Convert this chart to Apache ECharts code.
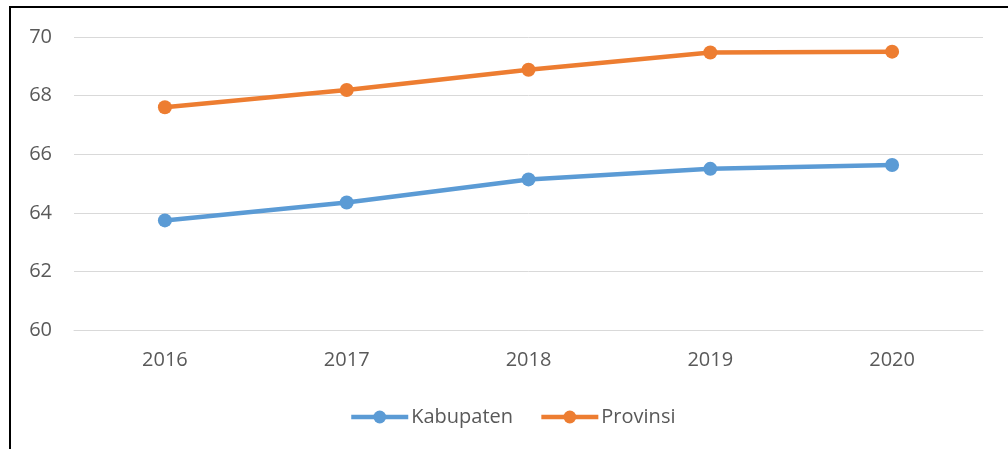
<!DOCTYPE html>
<html>
<head>
<meta charset="utf-8">
<script src="https://cdn.jsdelivr.net/npm/echarts@6/dist/echarts.min.js"></script>
<style>
  html, body { margin: 0; padding: 0; background: #fff; }
  #chart { width: 1008px; height: 449px; }
</style>
</head>
<body>
<div id="chart"></div>
<script>
var years = ['2016', '2017', '2018', '2019', '2020'];
var kabupaten = [63.74, 64.35, 65.14, 65.5, 65.63];
var provinsi = [67.6, 68.19, 68.88, 69.47, 69.5];

var myChart = echarts.init(document.getElementById('chart'));

var textColor = '#595959';
var fontFamily = '"Open Sans", "Liberation Sans", sans-serif';

option = {
	backgroundColor: '#fff',
	animation: false,
	textStyle: {
		fontFamily: fontFamily
	},
	graphic: [{
		type: 'rect',
		shape: { x: 10, y: 7, width: 1010, height: 460 },
		style: { fill: 'none', stroke: '#000', lineWidth: 2 }
	}],
	grid: {
		left: 74,
		right: 25,
		top: 37,
		bottom: 119
	},
	legend: {
		left: 344,
		top: 402,
		itemWidth: 57,
		itemHeight: 16,
		itemGap: 26,
		lineStyle: { width: 4.5 },
		textStyle: {
			color: textColor,
			fontSize: 20,
			padding: [0, 0, 0, -2],
			fontFamily: fontFamily
		},
		data: ['Kabupaten', 'Provinsi']
	},
	xAxis: {
		type: 'category',
		data: years,
		boundaryGap: true,
		axisLine: { lineStyle: { color: '#d9d9d9' } },
		axisTick: { show: false },
		axisLabel: {
			color: textColor,
			fontSize: 20,
			margin: 20
		}
	},
	yAxis: {
		type: 'value',
		min: 60,
		max: 70,
		interval: 2,
		axisLine: { show: false },
		axisTick: { show: false },
		axisLabel: {
			color: textColor,
			fontSize: 20,
			margin: 22
		},
		splitLine: { lineStyle: { color: '#d9d9d9', width: 1 } }
	},
	series: [{
		name: 'Kabupaten',
		type: 'line',
		data: kabupaten,
		symbol: 'circle',
		symbolSize: 14,
		color: '#5b9bd5',
		lineStyle: { width: 4.5, color: '#5b9bd5' },
		itemStyle: { color: '#5b9bd5' }
	}, {
		name: 'Provinsi',
		type: 'line',
		data: provinsi,
		symbol: 'circle',
		symbolSize: 14,
		color: '#ed7d31',
		lineStyle: { width: 4.5, color: '#ed7d31' },
		itemStyle: { color: '#ed7d31' }
	}]
};

myChart.setOption(option);
</script>
</body>
</html>
